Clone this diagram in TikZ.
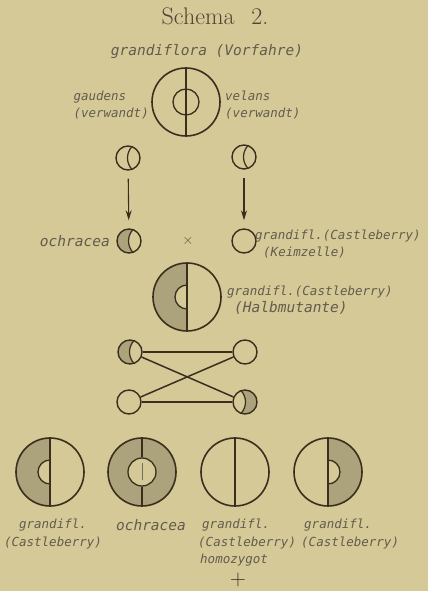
\documentclass[tikz,border=0pt]{standalone}
\usepackage{fontspec}
\usetikzlibrary{arrows.meta}
\newfontfamily\labfont{DejaVu Sans Mono}

\definecolor{paper}{RGB}{214,201,152}
\definecolor{ink}{RGB}{58,47,30}
\definecolor{shd}{RGB}{172,163,124}
\definecolor{txt}{RGB}{98,92,76}

\tikzset{
  lab/.style={text=txt, font=\labfont\itshape\fontsize{12.5}{17.5}\selectfont, inner sep=0pt},
  wide/.style={font=\labfont\itshape\fontsize{14.5}{17.5}\selectfont},
  bigc/.style={circle, draw=ink, line width=1.6pt, minimum size=68pt, inner sep=0pt},
  gam/.style={circle, draw=ink, line width=1.4pt, minimum size=24pt, inner sep=0pt},
  midline/.style={path picture={
    \draw[ink, line width=1.6pt] (path picture bounding box.north) -- (path picture bounding box.south);}},
  halfl/.style={path picture={
    \begin{scope}[shift={(path picture bounding box.center)}]
      \fill[shd] (0,-40pt) rectangle (-40pt,40pt);
      \fill[paper] (0,12pt) arc (90:270:12pt) -- cycle;
      \draw[ink, line width=1.3pt] (0,12pt) arc (90:270:12pt);
      \draw[ink, line width=1.6pt] (0,-40pt) -- (0,40pt);
    \end{scope}}},
  halfr/.style={path picture={
    \begin{scope}[shift={(path picture bounding box.center)}]
      \fill[shd] (0,-40pt) rectangle (40pt,40pt);
      \fill[paper] (0,12pt) arc (90:-90:12pt) -- cycle;
      \draw[ink, line width=1.3pt] (0,12pt) arc (90:-90:12pt);
      \draw[ink, line width=1.6pt] (0,-40pt) -- (0,40pt);
    \end{scope}}},
  % gamete with a moon-shaped inner line
  moon/.style={path picture={
    \draw[ink, line width=1.2pt, shift={(path picture bounding box.center)}]
      (4.3pt,11.75pt) arc (135.6:224.4:16.8pt);}},
  moonl/.style={path picture={
    \begin{scope}[shift={(path picture bounding box.center)}]
      \fill[shd] (4.3pt,11.75pt) arc (135.6:224.4:16.8pt) -- ++(-30pt,-5pt) -- ++(0,40pt) -- cycle;
      \draw[ink, line width=1.2pt] (4.3pt,11.75pt) arc (135.6:224.4:16.8pt);
    \end{scope}}},
  moonr/.style={path picture={
    \begin{scope}[shift={(path picture bounding box.center)}]
      \fill[shd] (-4.3pt,11.75pt) arc (44.4:-44.4:16.8pt) -- ++(30pt,-5pt) -- ++(0,40pt) -- cycle;
      \draw[ink, line width=1.2pt] (-4.3pt,11.75pt) arc (44.4:-44.4:16.8pt);
    \end{scope}}},
  arr/.style={draw=ink, line width=1.1pt, -{Stealth[length=10pt,width=6pt]}, shorten <=8pt, shorten >=8pt},
  cord/.style={draw=ink, line width=1.5pt}
}

\begin{document}
\begin{tikzpicture}[x=1pt, y=1pt]
  \fill[paper] (0,0) rectangle (428,591);
  \useasboundingbox (0,0) rectangle (428,591);

  \node[text=ink!90, font=\fontsize{24}{24}\selectfont] (title) at (215,575) {Schema\hspace{0.7em}2.};

  % Vorfahre
  \node[lab, wide] (vorftxt) at (207,539) {grandiflora (Vorfahre)};
  \node[bigc, midline] (vorf) at (186,489) {};
  \draw[ink, line width=1.3pt] (vorf.center) circle (13pt);
  \node[lab, anchor=east, align=left] (gaud) at (149,486) {gaudens\\(verwandt)};
  \node[lab, anchor=west, align=left] (vel) at (225,486) {velans\\(verwandt)};

  % Keimzellen
  \node[gam, moon] (gl) at (128,433) {};
  \node[gam, moon] (gr) at (244,434) {};
  \node[gam, moonl] (och) at (129,350) {};
  \node[gam] (kz) at (244,350) {};
  \draw[arr] (gl) -- (och);
  \draw[arr] (gr) -- (kz);
  \node[text=ink!85, font=\fontsize{14}{14}\selectfont] (kreuz) at (188,350) {$\times$};
  \node[lab, wide, anchor=east] (ochtxt) at (110,350) {ochracea};
  \node[lab, anchor=west, align=left] (kztxt) at (255,347) {grandifl.(Castleberry)\\\hspace*{8pt}(Keimzelle)};

  % Halbmutante
  \node[bigc, halfl] (halb) at (187,294) {};
  \node[lab, anchor=west, align=left] (halbtxt) at (227,291) {grandifl.(Castleberry)\\\hspace*{7pt}{\fontsize{14.5}{17.5}\selectfont(Halbmutante)}};

  % Spaltung
  \node[gam, moonl] (tl) at (130,239) {};
  \node[gam] (tr) at (245,239) {};
  \node[gam] (bl) at (129,189) {};
  \node[gam, moonr] (br) at (245,189) {};
  \draw[cord] (tl) -- (tr);
  \draw[cord] (bl) -- (br);
  \draw[cord] (tl) -- (br);
  \draw[cord] (bl) -- (tr);

  % Nachkommen
  \node[bigc, halfl] (b1) at (50,119) {};
  \node[bigc, fill=shd] (b2) at (142,119) {};
  \draw[ink, line width=1.3pt, fill=paper] (b2.center) circle (14pt);
  \draw[ink, line width=1.6pt] (b2.north) -- ++(0,-20pt);
  \draw[ink, line width=1.6pt] (b2.south) -- ++(0,20pt);
  \draw[ink!70, line width=0.6pt] ([yshift=9pt]b2.center) -- ([yshift=-8pt]b2.center);
  \node[bigc, midline] (b3) at (235,119) {};
  \node[bigc, halfr] (b4) at (328,119) {};

  \node[lab, anchor=north, align=center] (l1) at (53,72) {grandifl.\\(Castleberry)};
  \node[lab, wide, anchor=north] (l2) at (151,72) {ochracea};
  \node[lab, anchor=north west, align=left] (l3) at (198,72) {\hspace*{4pt}grandifl.\\(Castleberry)\\\hspace*{2pt}homozygot};
  \node[lab, anchor=north west, align=left] (l4) at (301,72) {\hspace*{3pt}grandifl.\\(Castleberry)};
  \node[text=ink, font=\fontsize{22}{22}\selectfont, inner sep=0pt] (tot) at (238,11) {+};
\end{tikzpicture}
\end{document}
